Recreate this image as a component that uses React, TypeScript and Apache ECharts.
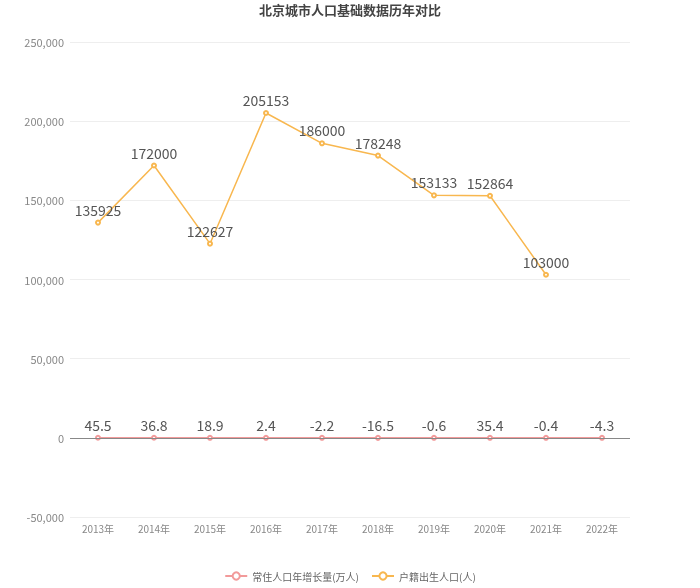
import React, { useEffect, useRef } from "react";
import * as echarts from "echarts";

const categories = ["2013年", "2014年", "2015年", "2016年", "2017年", "2018年", "2019年", "2020年", "2021年", "2022年"];
const residentGrowth = [45.5, 36.8, 18.9, 2.4, -2.2, -16.5, -0.6, 35.4, -0.4, -4.3];
const births = [135925, 172000, 122627, 205153, 186000, 178248, 153133, 152864, 103000, null];
const seriesNames = ["常住人口年增长量(万人)", "户籍出生人口(人)"];

export default function App() {
  const ref = useRef<HTMLDivElement>(null);
  useEffect(() => {
    if (!ref.current) return;
    const chart = echarts.init(ref.current, null, { renderer: "svg" });
    const font = "'Noto Sans CJK SC', 'Noto Sans', sans-serif";
    chart.setOption({
      animation: false,
      textStyle: { fontFamily: font },
      title: {
        text: "北京城市人口基础数据历年对比",
        left: "center",
        top: -2,
        textStyle: { fontSize: 13, fontWeight: "bold", color: "#444", fontFamily: font },
      },
      legend: {
        bottom: 2,
        left: "center",
        itemWidth: 22,
        itemHeight: 9,
        itemGap: 12,
        textStyle: { fontSize: 10, color: "#666" },
        data: seriesNames,
      },
      grid: { left: 70, right: 70, top: 42, bottom: 71 },
      xAxis: {
        type: "category",
        data: categories,
        axisLine: { show: false },
        axisTick: { show: false },
        axisLabel: { fontSize: 10, color: "#888", margin: 6 },
      },
      yAxis: {
        type: "value",
        min: -50000,
        max: 250000,
        interval: 50000,
        axisLine: { show: false },
        axisTick: { show: false },
        axisLabel: {
          fontSize: 11,
          color: "#888",
          margin: 6,
          formatter: (v: number) => v.toLocaleString("en-US"),
        },
        splitLine: { lineStyle: { color: "#eeeeee" } },
      },
      series: [
        {
          name: seriesNames[0],
          type: "line",
          data: residentGrowth,
          color: "#F29A9A",
          symbol: "emptyCircle",
          symbolSize: 4,
          lineStyle: { width: 1.5 },
          label: { show: true, position: "top", fontSize: 14, color: "#555", distance: 3 },
          markLine: {
            silent: true,
            symbol: "none",
            label: { show: false },
            lineStyle: { color: "#888", type: "solid", width: 1 },
            data: [{ yAxis: 0 }],
          },
          z: 3,
        },
        {
          name: seriesNames[1],
          type: "line",
          data: births,
          color: "#F8B74F",
          symbol: "emptyCircle",
          symbolSize: 4,
          lineStyle: { width: 1.5 },
          label: { show: true, position: "top", fontSize: 14, color: "#555", distance: 3 },
        },
      ],
    });
    return () => chart.dispose();
  }, []);
  return <div ref={ref} style={{ position: "fixed", left: 0, top: 0, width: 700, height: 588 }} />;
}
